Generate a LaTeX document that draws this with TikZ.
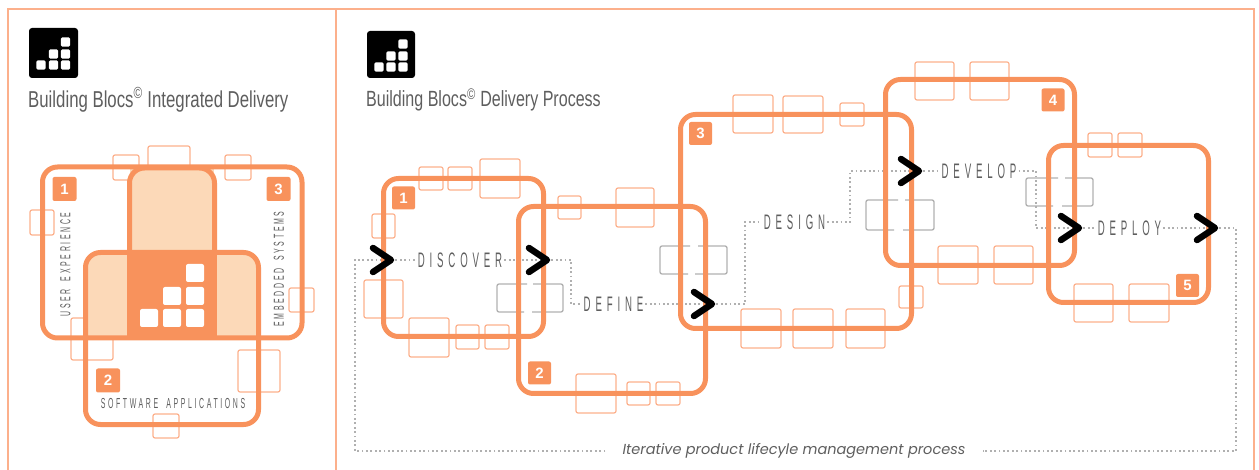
\documentclass[tikz,border=0pt]{standalone}
\usepackage{fontspec}
\setmainfont{Liberation Sans}
\newfontfamily\titlefont[FakeStretch=0.73]{Liberation Sans}
\newfontfamily\stepfont[FakeStretch=0.46,LetterSpace=23]{Liberation Sans}
\newfontfamily\tagfont[FakeStretch=0.48,LetterSpace=18,WordSpace=1.8]{Liberation Sans}
\newfontfamily\notefont{Poppins}
\definecolor{blocorange}{HTML}{F8925C}
\definecolor{blocthin}{HTML}{FCB08C}
\definecolor{blocpeach}{HTML}{FCD9B8}
\definecolor{blocgrey}{HTML}{B0B0B0}
\definecolor{bloctext}{HTML}{5E5E5E}
\tikzset{
    framerule/.style = {blocthin, line width=1.5pt},
    thinbloc/.style = {blocthin, line width=1.2pt, rounded corners=2pt},
    greybloc/.style = {blocgrey, line width=1.3pt, rounded corners=2pt},
    mainbloc/.style = {blocorange, line width=5pt, rounded corners=15pt},
    flowline/.style = {blocgrey, line width=1.4pt, dash pattern=on 1.8pt off 2.6pt},
    chevron/.style = {black, line width=6.5pt, line cap=round, line join=round},
    badge/.style = {fill=blocorange, text=white, rounded corners=2pt, inner sep=0pt, minimum size=23pt, font=\bfseries\fontsize{15}{15}\selectfont},
    heading/.style = {anchor=west, inner sep=0pt, text=bloctext, font=\titlefont\fontsize{23}{23}\selectfont},
    steplabel/.style = {inner sep=2pt, text=bloctext, font=\stepfont\fontsize{21}{21}\selectfont},
    taglabel/.style = {inner sep=0pt, text=bloctext, font=\tagfont\fontsize{14.5}{14.5}\selectfont},
}
\begin{document}
\begin{tikzpicture}[x=1pt,y=-1pt]
    \useasboundingbox (0,0) rectangle (1259,470);
    % frame
    \draw[framerule] (8,470) -- (8,9) -- (1254,9) -- (1254,470);
    \draw[framerule] (336,9) -- (336,470);
    % logos
    \fill[black, rounded corners=3pt] (29,28) rectangle (78,78);
    \foreach \x/\y in {41/65,53.5/65,65.5/65,53.5/54,65.5/54,65.5/42}
        \fill[white, rounded corners=1.5pt] (\x-4.7,\y-4.7) rectangle (\x+4.7,\y+4.7);
    \fill[black, rounded corners=3pt] (367,31) rectangle (415,78);
    \foreach \x/\y in {379/67,391/67,403/67,391/56,403/56,403/44}
        \fill[white, rounded corners=1.5pt] (\x-4.7,\y-4.7) rectangle (\x+4.7,\y+4.7);
    \node[heading] (integrated) at (28,100) {Building Blocs\textsuperscript{©} Integrated Delivery};
    \node[heading, font=\titlefont\fontsize{22}{22}\selectfont] (process) at (366,100) {Building Blocs\textsuperscript{©} Delivery Process};

    % left panel
    \foreach \xa/\ya/\xb/\yb in {113/155/139/180,148/146/190/188,225/155/251/180,30/210/54/235,289/288/314/312,71/318/113/360,238/350/280/392,153/414/179/438}
        \draw[thinbloc] (\xa,\ya) rectangle (\xb,\yb);
    \fill[blocpeach] (130,250) -- (130,168) -- (214,168) -- (214,250) -- cycle;
    \begin{scope}
        \clip (85,250) rectangle (260,338);
        \fill[blocpeach, rounded corners=15pt] (85.5,252.5) rectangle (258.5,424.5);
    \end{scope}
    \fill[blocorange] (127,250) rectangle (217,339);
    \draw[mainbloc] (42.5,167) rectangle (302,338);
    \draw[mainbloc] (85.5,252.5) rectangle (258.5,424.5);
    \draw[mainbloc] (129.5,250) -- (129.5,168) -- (214.5,168) -- (214.5,250);
    \foreach \x/\y in {195/273,172/296,195/296,149/318,172/318,195/318}
        \fill[white, rounded corners=2pt] (\x-9,\y-9) rectangle (\x+9,\y+9);
    \node[badge, minimum size=24pt] (ux) at (64.5,189) {1};
    \node[badge, minimum size=24pt] (apps) at (108,380.5) {2};
    \node[badge, minimum size=24pt] (embedded) at (278.5,189) {3};
    \node[taglabel, rotate=90] (uxtag) at (65.5,264.5) {USER EXPERIENCE};
    \node[taglabel, rotate=90] (embeddedtag) at (279,269) {EMBEDDED SYSTEMS};
    \node[taglabel] (appstag) at (173,404) {SOFTWARE APPLICATIONS};

    % right panel, small blocs
    \foreach \xa/\ya/\xb/\yb in {419/167/443/190,448/167/472/190,480/159/520/198,372/214/395/238,364/280/403/318,409/318/449/357,456/325/479/349,485/325/509/349,
        558/196/581/219,616/188/654/227,576/374/616/413,627/382/650/405,656/382/680/405,
        733/95/773/133,783/96/823/133,840/103/864/126,741/309/781/348,793/309/833/348,846/309/885/348,899/286/923/308,
        915/62/954/100,970/62/1009/100,938/246/978/284,994/246/1033/284,
        1088/133/1112/157,1118/133/1142/157,1074/284/1113/322,1129/284/1169/322}
        \draw[thinbloc] (\xa,\ya) rectangle (\xb,\yb);
    % grey blocs, broken in the middle
    \foreach \xa/\xb/\ya/\yb/\ta/\tb/\ba/\bb in {660/727/246/274/690/698/688/695,497/563/284/312/527/533/524/532,866/934/200/230/898/905/894/903,1026/1093/178/206/1058/1065/1053/1062}{
        \draw[greybloc] (\ta,\ya) -- (\xa,\ya) -- (\xa,\yb) -- (\ba,\yb);
        \draw[greybloc] (\tb,\ya) -- (\xb,\ya) -- (\xb,\yb) -- (\bb,\yb);
    }

    \node[steplabel] (discover) at (460,260) {DISCOVER};
    \node[steplabel] (define) at (613.5,304) {DEFINE};
    \node[steplabel] (design) at (794.5,222) {DESIGN};
    \node[steplabel] (develop) at (979,171) {DEVELOP};
    \node[steplabel] (deploy) at (1129.5,228) {DEPLOY};
    \node[inner xsep=17pt, inner ysep=0pt, text=bloctext, font=\notefont\itshape\fontsize{14.5}{14.5}\selectfont] (lifecycle) at (794,451) {Iterative product lifecyle management process};

    \coordinate (tipA) at (391,260);
    \coordinate (tipB) at (547,260);
    \coordinate (tipC) at (712,304);
    \coordinate (tipD) at (919,171);
    \coordinate (tipE) at (1079,228);
    \coordinate (tipF) at (1215,228);
    \coordinate (bendB) at (571,260);
    \coordinate (bendBb) at (571,304);
    \coordinate (bendC) at (745,304);
    \coordinate (bendCb) at (745,222);
    \coordinate (bendD) at (850,222);
    \coordinate (bendDb) at (850,171);
    \coordinate (bendE) at (1036,171);
    \coordinate (bendEb) at (1036,228);
    \coordinate (loopA) at (1236,228);
    \coordinate (loopB) at (1236,451);
    \coordinate (loopC) at (355,451);
    \coordinate (loopD) at (355,260);

    \draw[flowline] (tipA) -- (discover);
    \draw[flowline] (discover) -- (tipB);
    \draw[flowline] (tipB) -- (bendB) -- (bendBb) -- (define);
    \draw[flowline] (define) -- (tipC);
    \draw[flowline] (tipC) -- (bendC) -- (bendCb) -- (design);
    \draw[flowline] (design) -- (bendD) -- (bendDb) -- (tipD);
    \draw[flowline] (tipD) -- (develop);
    \draw[flowline] (develop) -- (bendE) -- (bendEb) -- (tipE);
    \draw[flowline] (tipE) -- (deploy);
    \draw[flowline] (deploy) -- (tipF);
    \draw[flowline] (tipF) -- (loopA) -- (loopB) -- (lifecycle);
    \draw[flowline] (lifecycle) -- (loopC) -- (loopD) -- (tipA);

    % big blocs
    \draw[mainbloc] (383.5,178.5) rectangle (543.5,336.5);
    \draw[mainbloc] (518.5,206.5) rectangle (705.5,393.5);
    \draw[mainbloc] (680.5,114.5) rectangle (911.5,328.5);
    \draw[mainbloc] (885.5,79.5) rectangle (1074.5,265.5);
    \draw[mainbloc] (1048.5,145.5) rectangle (1208.5,302.5);

    \node[badge] (discovernum) at (403.5,198) {1};
    \node[badge] (definenum) at (539.5,373) {2};
    \node[badge] (designnum) at (700.5,133.5) {3};
    \node[badge] (developnum) at (1053,100) {4};
    \node[badge] (deploynum) at (1187.5,285.5) {5};

    \foreach \tip in {tipA,tipB,tipC,tipD,tipE,tipF}
        \draw[chevron] (\tip) +(-18,-12) -- (\tip) -- +(-18,12);
\end{tikzpicture}
\end{document}
